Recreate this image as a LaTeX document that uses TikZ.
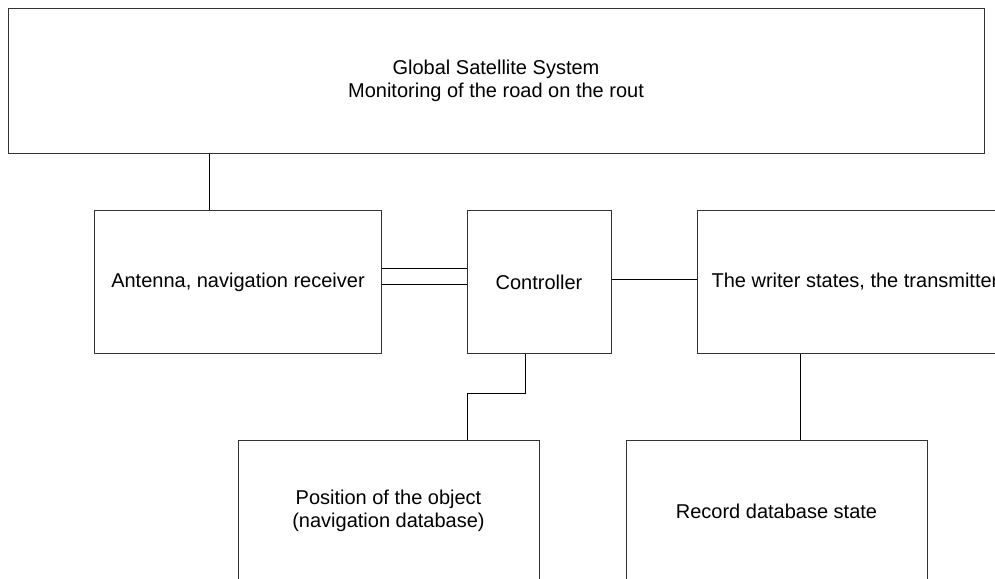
\documentclass[tikz,border=0pt]{standalone}
\usepackage{fontspec}
\setmainfont{Liberation Sans}

\begin{document}
\begin{tikzpicture}[
  x=1pt, y=-1pt,
  block/.style={
    draw=black!80,
    line width=1pt,
    rectangle,
    inner sep=0pt,
    align=center,
    font=\fontsize{20}{23.5}\selectfont
  },
  link/.style={line width=1pt, black}
]
\useasboundingbox (0,0) rectangle (995,578);

\node[block, minimum width=976pt, minimum height=144pt] (gss) at (496,81)
  {Global Satellite System\\Monitoring of the road on the rout};
\node[block, minimum width=287pt, minimum height=143pt] (ant) at (238,282)
  {Antenna, navigation receiver};
\node[block, minimum width=144pt, minimum height=143pt] (ctrl) at (539,282)
  {Controller};
\node[block, minimum width=316pt, minimum height=143pt] (wr) at (855,282)
  {The writer states, the transmitter};
\node[block, minimum width=301pt, minimum height=142pt] (pos) at (388.5,511)
  {Position of the object\\(navigation database)};
\node[block, minimum width=301pt, minimum height=142pt] (rec) at (776.5,511)
  {Record database state};

% connectors
\coordinate (bend) at (467,393);
\draw[link] (gss.south -| 209,0) -- (ant.north -| 209,0);
\draw[link] (ant.east |- 0,268) -- (ctrl.west |- 0,268);
\draw[link] (ant.east |- 0,284.5) -- (ctrl.west |- 0,284.5);
\draw[link] (ctrl.east |- 0,279) -- (wr.west |- 0,279);
\draw[link] (ctrl.south -| 525,0) |- (bend) -- (pos.north -| bend);
\draw[link] (wr.south -| 800,0) -- (rec.north -| 800,0);
\end{tikzpicture}
\end{document}
